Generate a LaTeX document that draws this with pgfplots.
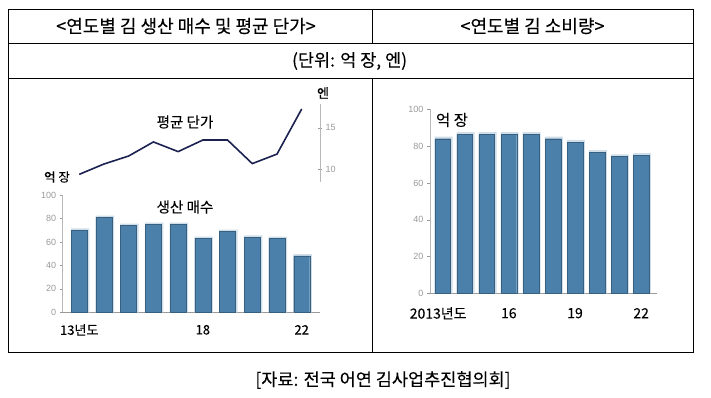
\documentclass[border=0pt]{standalone}
\usepackage{pgfplots}
\pgfplotsset{compat=1.18}
\usepackage{fontspec}
\setmainfont{Noto Sans CJK KR}[FakeBold=0.12]
\newfontfamily\tickfont{Liberation Sans}
\definecolor{barblue}{HTML}{4A80AA}
\definecolor{halo}{HTML}{CFDEE8}
\definecolor{navy}{HTML}{1C2250}
\definecolor{tickgray}{HTML}{9A9A9A}
\pgfplotsset{
  common/.style={
    scale only axis, anchor=south west,
    /pgf/number format/assume math mode=true,
    y tick label style={font=\tickfont\fontsize{9}{9}\selectfont, text=tickgray},
    tick style={draw=tickgray},
  },
  barax/.style={
    common, ybar, ymin=0, ymax=100, ytick={0,20,...,100},
    axis x line=bottom, axis y line=left,
    x axis line style={draw=tickgray, line width=1.6pt, -},
    y axis line style={draw=tickgray!70, line width=0.7pt, -},
    xtick style={draw=none}, major tick length=3pt, ytick align=outside,
    x tick label style={font=\fontsize{13}{13}\selectfont, anchor=center},
  },
}
\begin{document}
\begin{tikzpicture}[x=1pt,y=1pt]
\path[use as bounding box, fill=white] (0,0) rectangle (711,397);
% table frame
\draw[line width=1pt] (8.3,387.5) rectangle (693,45);
\draw[line width=1pt] (8.3,353) -- (693,353);
\draw[line width=1pt] (8.3,318) -- (693,318);
\draw[line width=1pt] (372,387.5) -- (372,353);
\draw[line width=1pt] (372,318) -- (372,45);
\node[font=\fontsize{18}{18}\selectfont] at (186,371) {<연도별 김 생산 매수 및 평균 단가>};
\node[font=\fontsize{18}{18}\selectfont] at (532.5,371) {<연도별 김 소비량>};
\node[font=\fontsize{17.5}{18}\selectfont] at (349.6,336) {(단위: 억 장, 엔)};
\node[font=\fontsize{17.5}{18}\selectfont] at (383,17) {[자료: 전국 어연 김사업추진협의회]};

% left: production bars
\begin{axis}[barax, at={(62.7pt,84.7pt)}, width=257.3pt, height=117.3pt,
  xmin=-0.67, xmax=9.74,
  xtick={0,5,9}, xticklabels={13년도,18,22},
  x tick label style={yshift=-16pt}]
\addplot[fill=halo, draw=none, bar width=18.5pt, bar shift=0.8pt] coordinates {
 (0,71.5) (1,82.5) (2,75.5) (3,76.5) (4,76.5) (5,64.5) (6,70.5) (7,65.5) (8,64.5) (9,49.5)};
\addplot[fill=barblue, draw=barblue!75!black, line width=0.4pt, bar width=16pt, bar shift=0pt] coordinates {
 (0,70) (1,81) (2,74) (3,75) (4,75) (5,63) (6,69) (7,64) (8,63) (9,48)};
\end{axis}

% left: average price line
\begin{axis}[common, at={(62.7pt,215.3pt)}, width=257.3pt, height=77.7pt,
  xmin=-0.67, xmax=9.74, ymin=8.46, ymax=17.86,
  axis x line=none, axis y line=right,
  y axis line style={draw=tickgray!70, line width=1pt, -},
  ytick={10,15}, ytick align=center, major tick length=4pt]
\addplot[navy, line width=1.6pt, mark=none] coordinates {
 (0,9.35) (1,10.6) (2,11.57) (3,13.27) (4,12.1) (5,13.5) (6,13.5) (7,10.65) (8,11.8) (9,17.26)};
\end{axis}

\node[font=\fontsize{13}{13}\selectfont] at (323,304) {엔};
\node[font=\fontsize{14.5}{15}\selectfont] at (185,275) {평균 단가};
\node[font=\fontsize{12.5}{13}\selectfont] at (57,220) {억 장};
\node[font=\fontsize{14.5}{15}\selectfont] at (185,190) {생산 매수};

% right: consumption bars
\begin{axis}[barax, at={(430pt,103.7pt)}, width=226.7pt, height=184pt,
  xmin=-0.576, xmax=9.705,
  xtick={0,3,6,9}, xticklabels={\hspace*{-9pt}2013년도,16,19,22},
  x tick label style={yshift=-18.4pt, font=\fontsize{14}{14}\selectfont}]
\addplot[fill=halo, draw=none, bar width=18pt, bar shift=0.8pt] coordinates {
 (0,85.2) (1,87.6) (2,87.6) (3,87.6) (4,87.6) (5,85.2) (6,83.4) (7,77.8) (8,75.5) (9,76.2)};
\addplot[fill=barblue, draw=barblue!75!black, line width=0.4pt, bar width=15.7pt, bar shift=0pt] coordinates {
 (0,84) (1,86.4) (2,86.4) (3,86.4) (4,86.4) (5,84) (6,82.2) (7,76.6) (8,74.3) (9,75)};
\end{axis}
\node[font=\fontsize{15.5}{16}\selectfont] at (452,277) {억 장};
\end{tikzpicture}
\end{document}
